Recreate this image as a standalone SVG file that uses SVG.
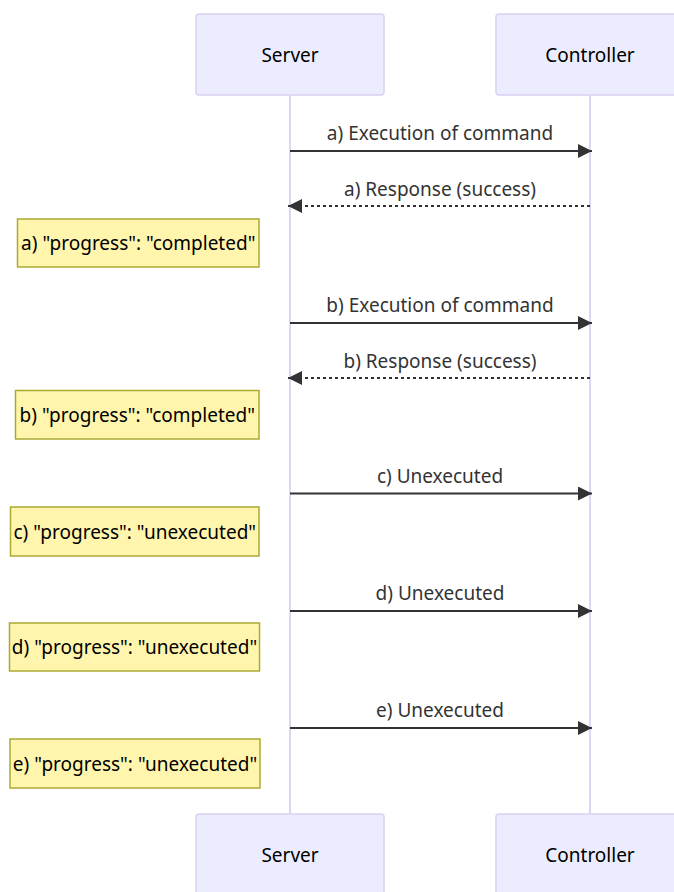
<svg xmlns="http://www.w3.org/2000/svg" width="674" height="892" viewBox="0 0 674 892">
  <style>
    .actor { fill: #ececff; stroke: #d9d0f3; stroke-width: 1.5; }
    .actor-text { font-family: "Noto Sans", "Open Sans", sans-serif; font-size: 19px; fill: #000; text-anchor: middle; dominant-baseline: central; }
    .lifeline { stroke: #ddd5f6; stroke-width: 2; }
    .msg { stroke: #333; stroke-width: 2; fill: none; }
    .dotted { stroke-dasharray: 3 3; }
    .msg-text { font-family: "Noto Sans", "Open Sans", sans-serif; font-size: 19px; fill: #333; text-anchor: middle; }
    .note { fill: #fff5ad; stroke: #aaaa33; stroke-width: 1.5; }
    .note-text { font-family: "Noto Sans", "Open Sans", sans-serif; font-size: 19px; fill: #000; text-anchor: middle; dominant-baseline: central; }
  </style>
  <defs>
    <marker id="arrowhead" markerUnits="userSpaceOnUse" markerWidth="16" markerHeight="16" refX="14" refY="7" orient="auto">
      <path d="M0,0 L14,7 L0,14 z" fill="#333"/>
    </marker>
  </defs>

  <rect width="674" height="892" fill="#fff"/>

  <!-- lifelines -->
  <g id="lifelines">
    <line class="lifeline" x1="290" y1="95" x2="290" y2="814"/>
    <line class="lifeline" x1="590" y1="95" x2="590" y2="814"/>
  </g>

  <!-- actors, top row -->
  <g id="actor-server-top">
    <rect class="actor" x="196" y="14" width="188" height="81" rx="3"/>
    <text class="actor-text" x="290" y="54.5">Server</text>
  </g>
  <g id="actor-controller-top">
    <rect class="actor" x="496" y="14" width="188" height="81" rx="3"/>
    <text class="actor-text" x="590" y="54.5">Controller</text>
  </g>

  <!-- actors, bottom row -->
  <g id="actor-server-bottom">
    <rect class="actor" x="196" y="814" width="188" height="81" rx="3"/>
    <text class="actor-text" x="290" y="854.5">Server</text>
  </g>
  <g id="actor-controller-bottom">
    <rect class="actor" x="496" y="814" width="188" height="81" rx="3"/>
    <text class="actor-text" x="590" y="854.5">Controller</text>
  </g>

  <!-- messages -->
  <g id="messages">
    <line class="msg" x1="290" y1="151" x2="592" y2="151" marker-end="url(#arrowhead)"/>
    <text class="msg-text" x="440" y="140">a) Execution of command</text>

    <line class="msg dotted" x1="590" y1="206" x2="288" y2="206" marker-end="url(#arrowhead)"/>
    <text class="msg-text" x="440" y="196">a) Response (success)</text>

    <line class="msg" x1="290" y1="323" x2="592" y2="323" marker-end="url(#arrowhead)"/>
    <text class="msg-text" x="440" y="312">b) Execution of command</text>

    <line class="msg dotted" x1="590" y1="378" x2="288" y2="378" marker-end="url(#arrowhead)"/>
    <text class="msg-text" x="440" y="368">b) Response (success)</text>

    <line class="msg" x1="290" y1="493.5" x2="592" y2="493.5" marker-end="url(#arrowhead)"/>
    <text class="msg-text" x="440" y="483">c) Unexecuted</text>

    <line class="msg" x1="290" y1="611" x2="592" y2="611" marker-end="url(#arrowhead)"/>
    <text class="msg-text" x="440" y="600">d) Unexecuted</text>

    <line class="msg" x1="290" y1="728" x2="592" y2="728" marker-end="url(#arrowhead)"/>
    <text class="msg-text" x="440" y="717">e) Unexecuted</text>
  </g>

  <!-- notes left of Server -->
  <g id="note-a">
    <rect class="note" x="17.5" y="219" width="241.5" height="48"/>
    <text class="note-text" x="138.25" y="243">a) "progress": "completed"</text>
  </g>
  <g id="note-b">
    <rect class="note" x="15.5" y="390.5" width="243.5" height="48.5"/>
    <text class="note-text" x="137.25" y="414.75">b) "progress": "completed"</text>
  </g>
  <g id="note-c">
    <rect class="note" x="10.5" y="507" width="248.5" height="49"/>
    <text class="note-text" x="134.75" y="531.5">c) "progress": "unexecuted"</text>
  </g>
  <g id="note-d">
    <rect class="note" x="9.5" y="623" width="250" height="48"/>
    <text class="note-text" x="134.5" y="647">d) "progress": "unexecuted"</text>
  </g>
  <g id="note-e">
    <rect class="note" x="10" y="739" width="250" height="49"/>
    <text class="note-text" x="135" y="763.5">e) "progress": "unexecuted"</text>
  </g>
</svg>
